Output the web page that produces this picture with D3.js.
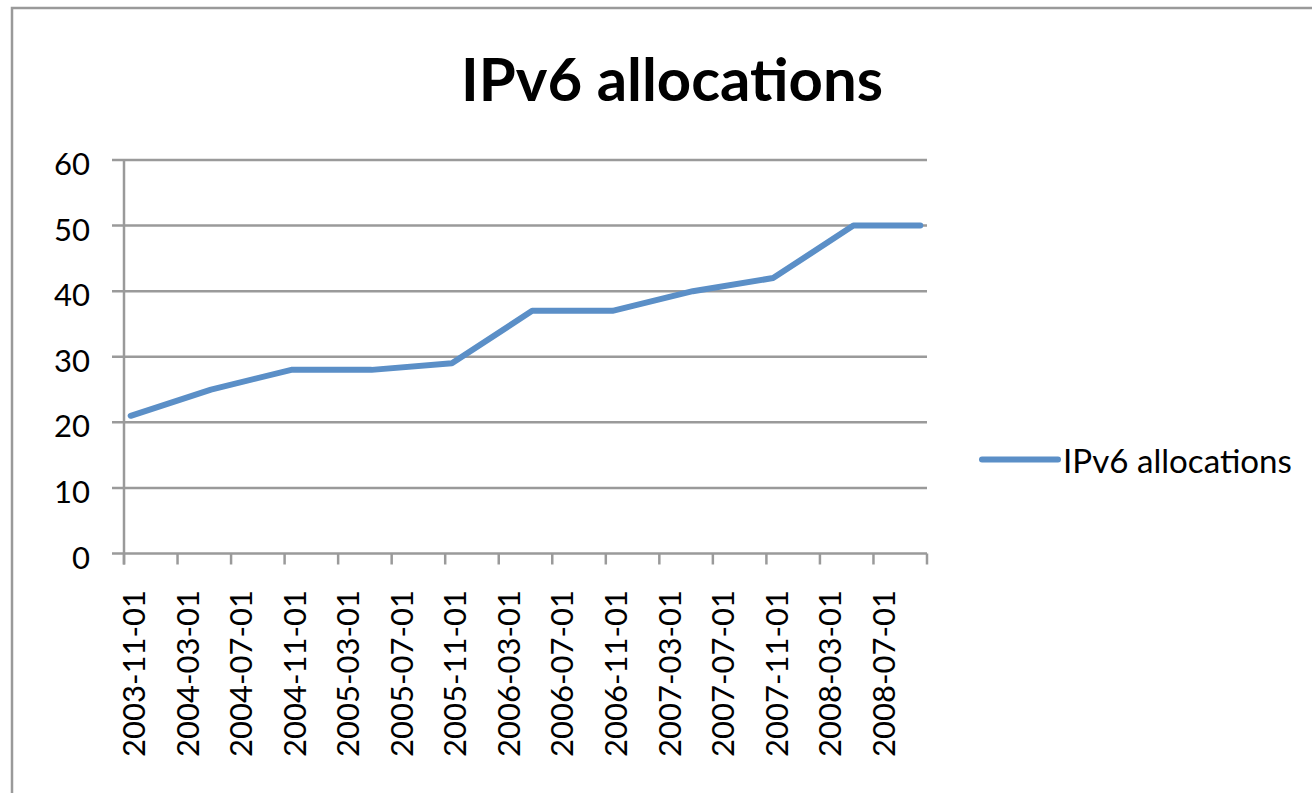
<!DOCTYPE html>
<html>
<head>
<meta charset="utf-8">
<script src="https://cdn.jsdelivr.net/npm/d3@7"></script>
<style>
  html, body { margin: 0; padding: 0; background: #fff; }
  svg { display: block; font-family: Lato, "Open Sans", sans-serif; }
  .grid { stroke: #9a9a9a; stroke-width: 2.5; }
  .series { fill: none; stroke: #5b8fc7; stroke-width: 6; stroke-linejoin: round; stroke-linecap: round; }
</style>
</head>
<body>
<svg id="vis" width="1312" height="793"></svg>
<script>
const width = 1312;
const height = 793;

// monthly data points (first of month)
const dates = ["2003-11-01", "2004-05-01", "2004-11-01", "2005-05-01", "2005-11-01", "2006-05-01",
  "2006-11-01", "2007-05-01", "2007-11-01", "2008-05-01", "2008-10-01"];
const values = [21, 25, 28, 28, 29, 37, 37, 40, 42, 50, 50];

// category labels every 4 months
const tickLabels = ["2003-11-01", "2004-03-01", "2004-07-01", "2004-11-01", "2005-03-01",
  "2005-07-01", "2005-11-01", "2006-03-01", "2006-07-01", "2006-11-01", "2007-03-01",
  "2007-07-01", "2007-11-01", "2008-03-01", "2008-07-01"];
const yTicks = [0, 10, 20, 30, 40, 50, 60];

const seriesName = "IPv6 allocations";

// excel date axis: every month is one slot
const parse = d3.utcParse("%Y-%m-%d");
const first = parse(dates[0]);
function monthIndex(s) {
  return d3.utcMonth.count(first, parse(s));
}
const nMonths = 60;

const x = d3.scaleLinear().domain([0, nMonths]).range([124, 927]);
const y = d3.scaleLinear().domain([0, 60]).range([553.5, 160]);

const svg = d3.select("#vis");

// chart border
svg.append("rect")
  .attr("x", 12).attr("y", 8)
  .attr("width", 1340).attr("height", 820)
  .attr("fill", "none")
  .attr("stroke", "#9a9a9a")
  .attr("stroke-width", 2.5);

// size text so it spans the width seen in the picture
function fit(sel, target) {
  const w = sel.node().getComputedTextLength();
  const fs = parseFloat(sel.attr("font-size"));
  return fs * target / w;
}

// title
const title = svg.append("text")
  .attr("x", 672).attr("y", 101)
  .attr("text-anchor", "middle")
  .attr("font-weight", "bold")
  .attr("font-size", 60)
  .text(seriesName);
title.attr("font-size", fit(title, 422));

// probe for label size
const probe = svg.append("text").attr("font-size", 36).text("2003-11-01");
const labelSize = fit(probe, 167);
probe.remove();

// gridlines (extend left as tick marks)
svg.append("g").selectAll("line")
  .data(yTicks)
  .join("line")
  .attr("class", "grid")
  .attr("x1", 112).attr("x2", x(nMonths))
  .attr("y1", d => y(d)).attr("y2", d => y(d));

// y axis line
svg.append("line")
  .attr("class", "grid")
  .attr("x1", x(0)).attr("x2", x(0))
  .attr("y1", y(60)).attr("y2", y(0) + 11);

// x ticks
svg.append("g").selectAll("line")
  .data(d3.range(0, nMonths + 1, 4))
  .join("line")
  .attr("class", "grid")
  .attr("x1", d => x(d)).attr("x2", d => x(d))
  .attr("y1", y(0)).attr("y2", y(0) + 11);

// y labels
svg.append("g").selectAll("text")
  .data(yTicks)
  .join("text")
  .attr("x", 90)
  .attr("y", d => y(d) + 15)
  .attr("text-anchor", "end")
  .attr("font-size", labelSize)
  .attr("fill", "#000")
  .text(d => d);

// x labels, rotated
svg.append("g").selectAll("text")
  .data(tickLabels)
  .join("text")
  .attr("transform", d => "translate(" + (x(monthIndex(d) + 0.5) + 14.5) + ",590) rotate(-90)")
  .attr("text-anchor", "end")
  .attr("font-size", labelSize)
  .attr("fill", "#000")
  .text(d => d);

// series line
const line = d3.line()
  .x((d, i) => x(monthIndex(dates[i]) + 0.5))
  .y(d => y(d));

svg.append("path")
  .datum(values)
  .attr("class", "series")
  .attr("d", line);

// legend
svg.append("line")
  .attr("class", "series")
  .attr("x1", 982).attr("x2", 1058)
  .attr("y1", 459.5).attr("y2", 459.5);

const legendText = svg.append("text")
  .attr("x", 1063).attr("y", 473)
  .attr("font-size", labelSize)
  .attr("fill", "#000")
  .text(seriesName);
legendText.attr("font-size", fit(legendText, 229));
</script>
</body>
</html>
